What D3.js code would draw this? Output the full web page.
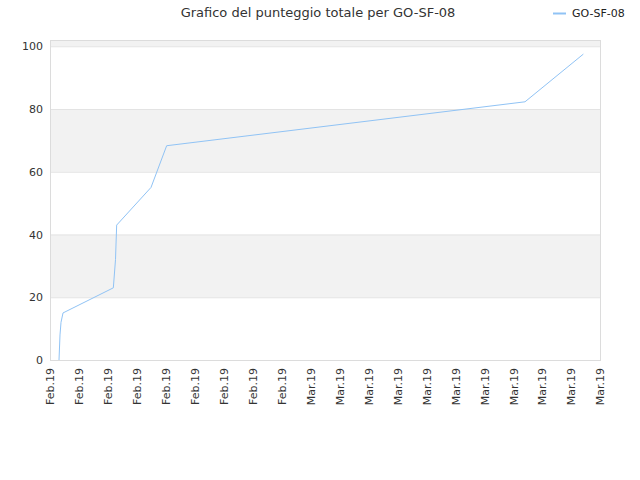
<!DOCTYPE html>
<html>
<head>
<meta charset="utf-8">
<script src="https://cdn.jsdelivr.net/npm/d3@7"></script>
<style>
  body { margin: 0; background: #fff; }
  svg text { font-family: "DejaVu Sans", Verdana, sans-serif; fill: #333; }
</style>
</head>
<body>
<script>
// Chart data.
const chartTitle = "Grafico del punteggio totale per GO-SF-08";
const seriesName = "GO-SF-08";

const scoreDates = [
    "2019-02-04T21:36", "2019-02-05T00:00", "2019-02-05T02:24",
    "2019-02-05T07:12", "2019-02-10T08:00", "2019-02-10T13:12",
    "2019-02-10T16:00", "2019-02-14T02:24", "2019-02-15T16:00",
    "2019-03-23T12:00", "2019-03-29T08:00"
];
const scoreValues = [0, 8, 12, 15, 23, 32, 43, 55, 68.3, 82.3, 97.5];

const xDomain = ["2019-02-04T00:00", "2019-03-31T00:00"];
const xTickLabels = [
    "Feb.19", "Feb.19", "Feb.19", "Feb.19", "Feb.19", "Feb.19", "Feb.19",
    "Feb.19", "Feb.19", "Mar.19", "Mar.19", "Mar.19", "Mar.19", "Mar.19",
    "Mar.19", "Mar.19", "Mar.19", "Mar.19", "Mar.19", "Mar.19"
];
const yTicks = [0, 20, 40, 60, 80, 100];
const yMax = 102;

// Layout
const width = 640, height = 480;
const margin = {top: 40, right: 40, bottom: 120, left: 50};

const parseDate = d3.timeParse("%Y-%m-%dT%H:%M");
const data = scoreDates.map((d, i) => ({x: parseDate(d), y: scoreValues[i]}));

let svg = d3.select("body").append("svg")
    .attr("width", width)
    .attr("height", height);

let xScale = d3.scaleTime()
    .domain(xDomain.map(parseDate))
    .range([margin.left, width - margin.right]);

// tick labels are evenly spread along the axis
let xTickScale = d3.scalePoint()
    .domain(d3.range(xTickLabels.length))
    .range([margin.left, width - margin.right]);

let yScale = d3.scaleLinear()
    .domain([0, yMax])
    .range([height - margin.bottom, margin.top]);

// alternating background bands
let bandEdges = yTicks.concat([yMax]);
let bands = [];
for (let i = 0; i < bandEdges.length - 1; i++) {
    if (i % 2 == 1) bands.push([bandEdges[i], bandEdges[i + 1]]);
}

svg.append("g")
    .selectAll("rect")
    .data(bands)
    .enter().append("rect")
    .attr("x", margin.left)
    .attr("width", width - margin.left - margin.right)
    .attr("y", d => yScale(d[1]))
    .attr("height", d => yScale(d[0]) - yScale(d[1]))
    .attr("fill", "#f2f2f2");

// horizontal grid lines
svg.append("g")
    .selectAll("line")
    .data(yTicks)
    .enter().append("line")
    .attr("x1", margin.left)
    .attr("x2", width - margin.right)
    .attr("y1", d => yScale(d) + 0.5)
    .attr("y2", d => yScale(d) + 0.5)
    .attr("stroke", "#e3e3e3");

// plot frame
svg.append("rect")
    .attr("x", margin.left + 0.5)
    .attr("y", margin.top + 0.5)
    .attr("width", width - margin.left - margin.right)
    .attr("height", height - margin.top - margin.bottom)
    .attr("fill", "none")
    .attr("stroke", "#dcdcdc");

// Y axis
let yAxis = d3.axisLeft(yScale)
    .tickValues(yTicks)
    .tickSize(0)
    .tickPadding(7);

let gy = svg.append("g")
    .attr("transform", "translate(" + margin.left + ",0)")
    .call(yAxis);
gy.select(".domain").remove();
gy.selectAll("text").style("font-size", "11px");

// X axis
let xAxis = d3.axisBottom(xTickScale)
    .tickSize(0)
    .tickFormat((d, i) => xTickLabels[i]);

let gx = svg.append("g")
    .attr("transform", "translate(0," + (height - margin.bottom) + ")")
    .call(xAxis);
gx.select(".domain").remove();
gx.selectAll("text")
    .style("font-size", "11px")
    .attr("text-anchor", "end")
    .attr("transform", "rotate(-90)")
    .attr("x", -8)
    .attr("y", 0)
    .attr("dy", "0.35em");

// the score line
let line = d3.line()
    .x(d => xScale(d.x))
    .y(d => yScale(d.y));

svg.append("path")
    .datum(data)
    .attr("fill", "none")
    .attr("stroke", "#90c3f5")
    .attr("stroke-width", 1)
    .attr("d", line);

// title
svg.append("text")
    .attr("x", 318)
    .attr("y", 17)
    .attr("text-anchor", "middle")
    .style("font-size", "13px")
    .text(chartTitle);

// legend
svg.append("line")
    .attr("x1", 553).attr("x2", 566)
    .attr("y1", 13.5).attr("y2", 13.5)
    .attr("stroke", "#90c3f5")
    .attr("stroke-width", 2);

svg.append("text")
    .attr("x", 572)
    .attr("y", 17)
    .style("font-size", "11px")
    .style("fill", "#222")
    .text(seriesName);
</script>
</body>
</html>
